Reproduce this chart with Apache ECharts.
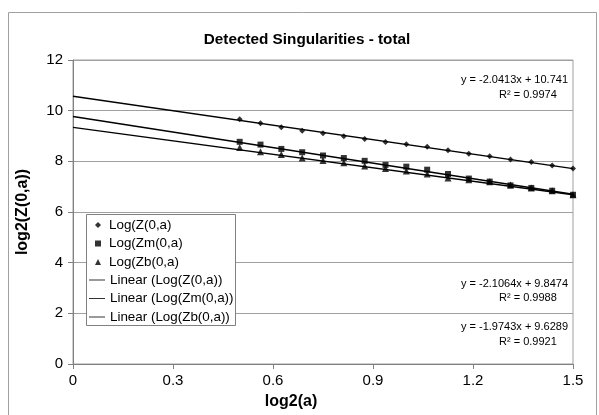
<!DOCTYPE html>
<html>
<head>
<meta charset="utf-8">
<script src="https://cdn.jsdelivr.net/npm/echarts@6/dist/echarts.min.js"></script>
<style>
  html, body { margin: 0; padding: 0; background: #fff; }
  #chart { width: 599px; height: 415px; }
</style>
</head>
<body>
<div id="chart"></div>
<script>
var xValues  = [0.5, 0.5625, 0.625, 0.6875, 0.75, 0.8125, 0.875, 0.9375, 1.0, 1.0625, 1.125, 1.1875, 1.25, 1.3125, 1.375, 1.4375, 1.5];
var zValues  = [9.66, 9.50, 9.35, 9.21, 9.11, 8.99, 8.88, 8.76, 8.67, 8.58, 8.44, 8.30, 8.20, 8.07, 7.97, 7.84, 7.72];
var zmValues = [8.77, 8.66, 8.49, 8.36, 8.23, 8.13, 8.02, 7.86, 7.79, 7.67, 7.50, 7.32, 7.20, 7.05, 6.95, 6.84, 6.68];
var zbValues = [8.55, 8.38, 8.27, 8.13, 8.03, 7.94, 7.82, 7.72, 7.62, 7.50, 7.34, 7.27, 7.19, 7.07, 6.95, 6.84, 6.68];

// trend lines, read at x = 0 and x = 1.5
var trendX     = [0, 1.5];
var trendZ     = [10.57, 7.71];
var trendZm    = [9.77, 6.70];
var trendZb    = [9.34, 6.68];

var pointNames = ['Log(Z(0,a)', 'Log(Zm(0,a)', 'Log(Zb(0,a)'];
var lineNames  = ['Linear (Log(Z(0,a))', 'Linear (Log(Zm(0,a))', 'Linear (Log(Zb(0,a))'];
var equations  = ['y = -2.0413x + 10.741', 'y = -2.1064x + 9.8474', 'y = -1.9743x + 9.6289'];
var rSquared   = ['R\u00b2 = 0.9974', 'R\u00b2 = 0.9988', 'R\u00b2 = 0.9921'];

function pairs(xs, ys)
{
    return xs.map(function(x, i) { return [x, ys[i]]; });
}

var font = "'Liberation Sans', Arial, sans-serif";
var chart = echarts.init(document.getElementById('chart'), null, {renderer: 'canvas'});

var series = [];
[trendZ, trendZm, trendZb].forEach(function(t, i)
{
    series.push({
        name: lineNames[i],
        type: 'line',
        data: pairs(trendX, t),
        symbol: 'none',
        color: '#000',
        lineStyle: {color: '#000', width: 1.4},
        silent: true,
        z: 2
    });
});
var symbols = ['diamond', 'rect', 'triangle'];
var sizes   = [6, 6, 7];
[zValues, zmValues, zbValues].forEach(function(v, i)
{
    series.push({
        name: pointNames[i],
        type: 'scatter',
        data: pairs(xValues, v),
        symbol: symbols[i],
        symbolSize: sizes[i],
        color: '#000',
        itemStyle: {color: '#000'},
        z: 3
    });
});

var option = {
    animation: false,
    backgroundColor: '#fff',
    textStyle: {fontFamily: font},
    title: {
        text: 'Detected Singularities - total',
        left: 302,
        textAlign: 'center',
        top: 27,
        textStyle: {fontFamily: font, fontSize: 15.3, fontWeight: 'bold', color: '#000'}
    },
    grid: {
        left: 73,
        right: 26,
        top: 60,
        bottom: 48,
        show: true,
        borderColor: '#a0a0a0',
        borderWidth: 1,
        backgroundColor: 'transparent'
    },
    legend: [
        {
            data: pointNames,
            orient: 'vertical',
            left: 95,
            top: 217,
            padding: 0,
            itemWidth: 6,
            itemHeight: 6,
            itemGap: 2.5,
            textStyle: {fontFamily: font, fontSize: 13.4, color: '#000', lineHeight: 16, padding: [0, 0, 0, 3]},
            selectedMode: false
        },
        {
            data: lineNames.map(function(n) { return {name: n, icon: 'path://M0,0 L20,0 L20,1 L0,1 Z'}; }),
            orient: 'vertical',
            left: 89,
            top: 272,
            padding: 0,
            itemWidth: 16,
            itemHeight: 1.4,
            itemGap: 2.5,
            textStyle: {fontFamily: font, fontSize: 13.4, color: '#000', lineHeight: 16, padding: [0, 0, 0, 0]},
            selectedMode: false
        }
    ],
    xAxis: {
        type: 'value',
        min: 0,
        max: 1.5,
        interval: 0.3,
        name: 'log2(a)',
        nameLocation: 'middle',
        nameGap: 30,
        nameTextStyle: {fontFamily: font, fontSize: 16, fontWeight: 'bold', color: '#000', padding: [0, 64, 0, 0]},
        axisLine: {show: true, lineStyle: {color: '#808080', width: 1}},
        axisTick: {show: true, inside: false, length: 5, lineStyle: {color: '#808080'}},
        axisLabel: {fontFamily: font, fontSize: 15, color: '#000', margin: 9},
        splitLine: {show: false}
    },
    yAxis: {
        type: 'value',
        min: 0,
        max: 12,
        interval: 2,
        name: 'log2(Z(0,a))',
        nameLocation: 'middle',
        nameGap: 42,
        nameRotate: 90,
        nameTextStyle: {fontFamily: font, fontSize: 16, fontWeight: 'bold', color: '#000'},
        axisLine: {show: true, lineStyle: {color: '#808080', width: 1}},
        axisTick: {show: true, inside: false, length: 5, lineStyle: {color: '#808080'}},
        axisLabel: {fontFamily: font, fontSize: 15, color: '#000', margin: 10},
        splitLine: {show: true, lineStyle: {color: '#a0a0a0', width: 1}}
    },
    graphic: [
        {
            type: 'rect',
            shape: {x: 8.5, y: 12.5, width: 588, height: 410},
            style: {fill: 'none', stroke: '#a0a0a0', lineWidth: 1},
            silent: true,
            z: 0
        },
        {
            type: 'rect',
            shape: {x: 86.5, y: 214.5, width: 149, height: 111},
            style: {fill: '#fff', stroke: '#808080', lineWidth: 1},
            silent: true,
            z: 3
        },
        {type: 'text', right: 31, top: 74, z: 5, style: {text: equations[0], font: '11px ' + font, fill: '#000'}},
        {type: 'text', left: 499, top: 89, z: 5, style: {text: rSquared[0], font: '11px ' + font, fill: '#000'}},
        {type: 'text', right: 31, top: 278, z: 5, style: {text: equations[1], font: '11px ' + font, fill: '#000'}},
        {type: 'text', left: 499, top: 292, z: 5, style: {text: rSquared[1], font: '11px ' + font, fill: '#000'}},
        {type: 'text', right: 31, top: 321, z: 5, style: {text: equations[2], font: '11px ' + font, fill: '#000'}},
        {type: 'text', left: 499, top: 336, z: 5, style: {text: rSquared[2], font: '11px ' + font, fill: '#000'}}
    ],
    series: series
};

chart.setOption(option);
</script>
</body>
</html>
